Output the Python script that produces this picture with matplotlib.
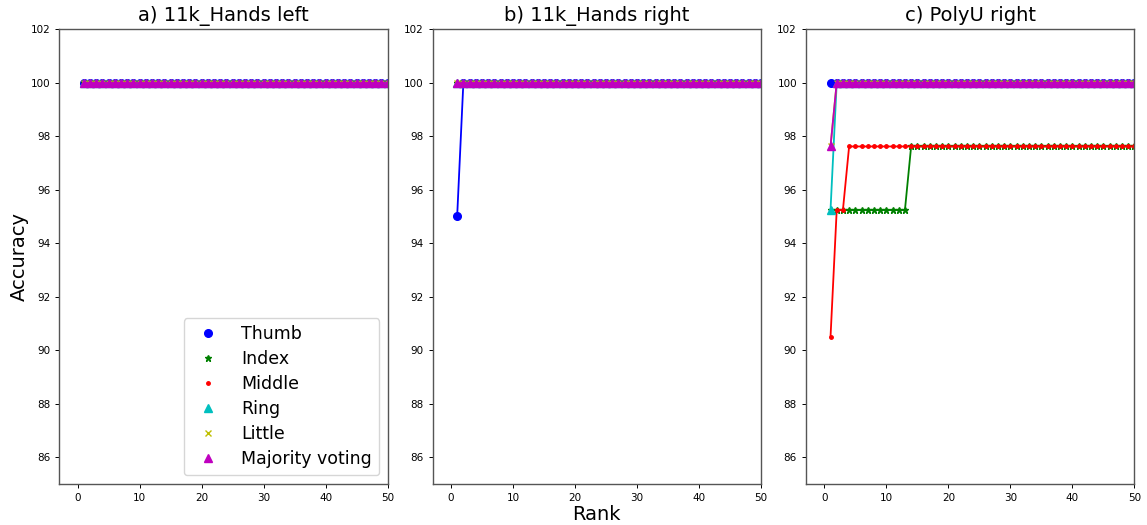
import matplotlib
matplotlib.use("Agg")
import matplotlib.pyplot as plt
from matplotlib.lines import Line2D

######################### DATA #########################

ranks = list(range(1, 81))

finger_names = ["Thumb", "Index", "Middle", "Ring", "Little", "Majority voting"]
finger_colors = ["b", "g", "r", "c", "y", "m"]
finger_markers = ["o", "*", ".", "^", "x", "^"]

# a) 11k_Hands left
a_thumb = [100.0] * 80
a_index = [100.0] * 80
a_middle = [100.0] * 80
a_ring = [100.0] * 80
a_little = [100.0] * 80
a_major = [100.0] * 80

# b) 11k_Hands right
b_thumb = [95.0] + [100.0] * 79
b_index = [100.0] * 80
b_middle = [100.0] * 80
b_ring = [100.0] * 80
b_little = [100.0] * 80
b_major = [100.0] * 80

# c) PolyU right
c_thumb = [100.0] * 80
c_index = [95.24] * 13 + [97.62] * 67
c_middle = [90.48, 95.24, 95.24] + [97.62] * 77
c_ring = [95.24] + [100.0] * 79
c_little = [97.62] + [100.0] * 79
c_major = [97.62] + [100.0] * 79

panels = [
    ("a) 11k_Hands left", [a_thumb, a_index, a_middle, a_ring, a_little, a_major]),
    ("b) 11k_Hands right", [b_thumb, b_index, b_middle, b_ring, b_little, b_major]),
    ("c) PolyU right", [c_thumb, c_index, c_middle, c_ring, c_little, c_major]),
]

######################### PLOT #########################

fig, axes = plt.subplots(1, 3, figsize=(11.47, 5.25), dpi=100)
fig.subplots_adjust(left=0.0517, right=0.989, top=0.944, bottom=0.0787, wspace=0.137)

def msize(m):
    return 5.5 if m in ("o", "^") else 5

for ax, (title, series) in zip(axes, panels):
    for vals, col, mk in zip(series, finger_colors, finger_markers):
        ax.plot(ranks, vals, color=col, marker=mk, markersize=msize(mk), linewidth=1.3)
    ax.set_xlim(right=50)
    ax.set_ylim(85, 102)
    ax.set_title(title, fontsize=14, pad=6)
    ax.tick_params(labelsize=7.5, width=0.7, length=3)
    for sp in ax.spines.values():
        sp.set_color("#555555")
        sp.set_linewidth(1.0)

axes[0].set_ylabel("Accuracy", fontsize=14, labelpad=1)
axes[1].set_xlabel("Rank", fontsize=14, labelpad=2)

handles = [Line2D([], [], color=c, marker=m, linestyle="none", markersize=msize(m))
           for c, m in zip(finger_colors, finger_markers)]
axes[0].legend(handles, finger_names, loc="lower right", fontsize=12.5,
               handletextpad=0.9, labelspacing=0.4, borderpad=0.4)

plt.savefig("out.png", dpi=100)
